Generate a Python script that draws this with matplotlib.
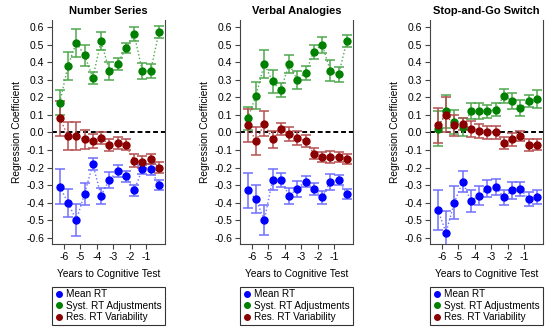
import matplotlib
matplotlib.use("Agg")
import matplotlib.pyplot as plt

plt.rcParams['font.family'] = ['Liberation Sans', 'DejaVu Sans']
plt.rcParams['axes.unicode_minus'] = False

years = [-6.25, -5.75, -5.25, -4.75, -4.25, -3.75, -3.25, -2.75, -2.25, -1.75, -1.25, -0.75, -0.25]
titles = ["Number Series", "Verbal Analogies", "Stop-and-Go Switch"]
labels = ["Mean RT", "Syst. RT Adjustments", "Res. RT Variability"]

# Number Series
ns_mean = [-0.31, -0.40, -0.50, -0.35, -0.18, -0.36, -0.27, -0.22, -0.25, -0.33, -0.21, -0.21, -0.30]
ns_mean_err = [0.10, 0.08, 0.09, 0.065, 0.035, 0.045, 0.045, 0.035, 0.03, 0.03, 0.025, 0.03, 0.03]
ns_syst = [0.17, 0.38, 0.51, 0.44, 0.31, 0.52, 0.35, 0.39, 0.48, 0.56, 0.35, 0.35, 0.57]
ns_syst_err = [0.07, 0.08, 0.08, 0.06, 0.035, 0.05, 0.05, 0.035, 0.03, 0.04, 0.045, 0.04, 0.035]
ns_res = [0.08, -0.02, -0.02, -0.04, -0.05, -0.03, -0.07, -0.06, -0.07, -0.16, -0.17, -0.15, -0.20]
ns_res_err = [0.10, 0.08, 0.08, 0.055, 0.04, 0.035, 0.035, 0.035, 0.03, 0.035, 0.035, 0.03, 0.03]

# Verbal Analogies
va_mean = [-0.33, -0.38, -0.50, -0.27, -0.27, -0.36, -0.32, -0.28, -0.32, -0.37, -0.28, -0.27, -0.35]
va_mean_err = [0.10, 0.08, 0.085, 0.06, 0.04, 0.045, 0.045, 0.03, 0.035, 0.035, 0.045, 0.03, 0.03]
va_syst = [0.08, 0.21, 0.39, 0.29, 0.24, 0.39, 0.30, 0.34, 0.46, 0.50, 0.35, 0.33, 0.52]
va_syst_err = [0.065, 0.075, 0.08, 0.065, 0.04, 0.05, 0.05, 0.04, 0.04, 0.045, 0.06, 0.045, 0.035]
va_res = [0.04, -0.05, 0.05, -0.04, 0.02, -0.01, -0.03, -0.05, -0.12, -0.14, -0.14, -0.14, -0.15]
va_res_err = [0.095, 0.08, 0.07, 0.05, 0.035, 0.04, 0.04, 0.035, 0.03, 0.03, 0.035, 0.03, 0.03]

# Stop-and-Go Switch
sg_mean = [-0.44, -0.57, -0.40, -0.28, -0.39, -0.36, -0.32, -0.31, -0.37, -0.33, -0.32, -0.38, -0.37]
sg_mean_err = [0.115, 0.12, 0.095, 0.06, 0.065, 0.055, 0.05, 0.045, 0.045, 0.05, 0.04, 0.04, 0.04]
sg_syst = [0.02, 0.12, 0.06, 0.03, 0.12, 0.12, 0.12, 0.13, 0.21, 0.18, 0.14, 0.18, 0.19]
sg_syst_err = [0.10, 0.095, 0.07, 0.05, 0.045, 0.045, 0.035, 0.035, 0.04, 0.045, 0.045, 0.035, 0.05]
sg_res = [0.04, 0.10, 0.04, 0.05, 0.02, 0.01, 0.00, 0.00, -0.06, -0.04, -0.02, -0.07, -0.07]
sg_res_err = [0.10, 0.10, 0.06, 0.035, 0.045, 0.04, 0.035, 0.035, 0.035, 0.035, 0.03, 0.035, 0.03]

panels = [
    [(ns_mean, ns_mean_err), (ns_syst, ns_syst_err), (ns_res, ns_res_err)],
    [(va_mean, va_mean_err), (va_syst, va_syst_err), (va_res, va_res_err)],
    [(sg_mean, sg_mean_err), (sg_syst, sg_syst_err), (sg_res, sg_res_err)],
]
colors = ["#0000ff", "#008000", "#8b0000"]
light = ["#6f6fff", "#4fa84f", "#b55050"]

fig = plt.figure(figsize=(5.5, 3.3), dpi=100)
lefts = [52, 240, 430]

for i in range(3):
    ax = fig.add_axes([lefts[i] / 550, (330 - 244) / 330, 113 / 550, 224 / 330])
    ax.axhline(0, color="black", ls=(0, (2.5, 1.5)), lw=1.4, zorder=1)
    handles = []
    for j in range(3):
        est, err = panels[i][j]
        ax.plot(years, est, ls=":", color=light[j], lw=1, zorder=2)
        ax.errorbar(years, est, yerr=err, fmt="none", ecolor=light[j], elinewidth=1.1,
                    capsize=3.5, capthick=1.1, zorder=3)
        h, = ax.plot(years, est, "o", color=colors[j], ms=5, zorder=4, label=labels[j])
        handles.append(h)
    ax.set_xlim(-6.72, 0.12)
    ax.set_ylim(-0.635, 0.64)
    ax.set_xticks([-6, -5, -4, -3, -2, -1])
    ax.set_yticks([-0.6, -0.5, -0.4, -0.3, -0.2, -0.1, 0.0, 0.1, 0.2, 0.3, 0.4, 0.5, 0.6])
    ax.set_yticklabels(["%.1f" % v for v in ax.get_yticks()])
    ax.spines["top"].set_visible(False)
    for s in ["left", "right", "bottom"]:
        ax.spines[s].set_color("#444444")
        ax.spines[s].set_linewidth(0.8)
    ax.tick_params(labelsize=7.5, length=3.5, width=0.8, pad=2, color="#444444")
    ax.set_title(titles[i], fontsize=8, fontweight="bold", pad=4)
    ax.set_xlabel("Years to Cognitive Test", fontsize=7.3, labelpad=5)
    ax.set_ylabel("Regression Coefficient", fontsize=7.3, labelpad=3)
    leg = ax.legend(handles=handles, loc="upper left", bbox_to_anchor=(0, -0.19, 1, 0),
                    mode="expand", fontsize=7.2, frameon=True, fancybox=False,
                    borderpad=0.25, labelspacing=0.15, handletextpad=0.3,
                    handlelength=0.8, borderaxespad=0, markerscale=0.8)
    leg.get_frame().set_edgecolor("black")
    leg.get_frame().set_linewidth(0.8)

fig.savefig("out.png", dpi=100)
